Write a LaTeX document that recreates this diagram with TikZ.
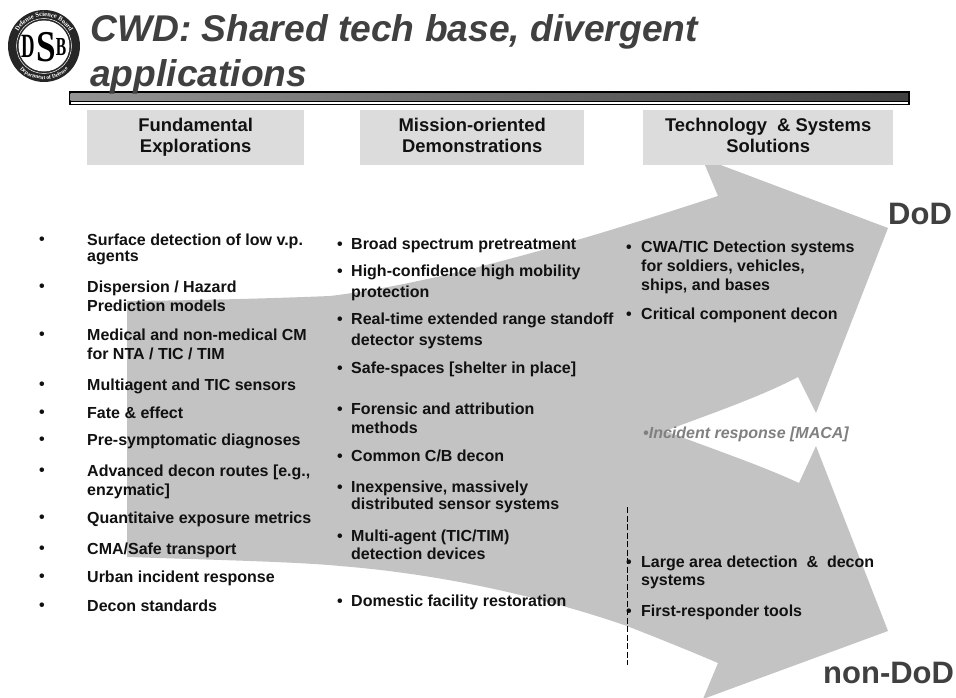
\documentclass[tikz,border=0pt]{standalone}
\usepackage{fontspec}
\setmainfont{Liberation Sans}
\newfontfamily\seriffont{Liberation Serif}
\usetikzlibrary{decorations.text}
\definecolor{arrowgray}{HTML}{C3C3C3}
\definecolor{boxgray}{HTML}{DCDCDC}
\definecolor{titlegray}{HTML}{404040}
\definecolor{inkblack}{HTML}{111111}
\newcommand{\pxfont}[1]{\fontsize{#1}{#1}\selectfont}
\newcommand{\twolines}[3]{\begin{tabular}[t]{@{}l@{}}\smash{#1}\\[#3]\smash{#2}\end{tabular}}
\newcommand{\threelines}[4]{\begin{tabular}[t]{@{}l@{}}\smash{#1}\\[#4]\smash{#2}\\[#4]\smash{#3}\end{tabular}}
\tikzset{
  x=1pt,y=-1pt,
  itemtext/.style={anchor=base west,inner sep=0pt,text=inkblack,font=\bfseries\pxfont{16}},
  bulletmark/.style={anchor=base,inner sep=0pt,text=inkblack,font=\bfseries\pxfont{16}},
  headbox/.style={fill=boxgray,draw=none,minimum height=55pt,inner sep=0pt,anchor=north west,align=center,text=inkblack,font=\bfseries\pxfont{18.4}},
  bigtitle/.style={anchor=base west,inner sep=0pt,text=titlegray,font=\bfseries\itshape\pxfont{37.2}},
  sidelabel/.style={anchor=base west,inner sep=0pt,text=titlegray,font=\bfseries\pxfont{31}},
}
\begin{document}
\begin{tikzpicture}
\useasboundingbox (0,0) rectangle (956,698);
\fill[white] (0,0) rectangle (956,698);
% arrow
\begin{scope}
\clip (0,0) rectangle (956,698);
\fill[arrowgray] (127,301) -- (127,557)
  .. controls (220,560) and (300,562) .. (340,566)
  .. controls (440,574) and (540,596) .. (627,626)
  .. controls (660,639) and (690,651) .. (718,663)
  -- (703,699) -- (888,631) -- (816,446) -- (799,483)
  .. controls (760,465) and (710,448) .. (665,431)
  .. controls (710,414) and (760,397) .. (798,377)
  -- (816,413) -- (888,228) -- (702,158) -- (718,196)
  .. controls (590,238) and (440,283) .. (330,296)
  .. controls (270,298.5) and (190,300.5) .. (127,301) -- cycle;
\end{scope}
% logo
\fill[black!85] (44,46) circle (36);
\draw[white,line width=0.5pt] (44,46) circle (27.5);
\fill[white] (44,46) circle (25.5);
\path[decorate,decoration={text along path,text align=center,text={|\seriffont\bfseries\pxfont{6.5}\color{white}|Defense Science Board}}] (14.5,46) arc[start angle=180,end angle=360,radius=29.5];
\path[decorate,decoration={text along path,text align=center,text={|\seriffont\bfseries\pxfont{5.5}\color{white}|Department of Defense}}] (10.5,46) arc[start angle=180,end angle=0,radius=33.5];
\node[inner sep=0pt,font=\seriffont\bfseries\pxfont{34}] (logod) at (28,46) {\scalebox{0.55}[1]{D}};
\node[inner sep=0pt,font=\seriffont\bfseries\pxfont{44}] (logos) at (46.5,47) {\scalebox{0.8}[1]{S}};
\node[inner sep=0pt,font=\seriffont\bfseries\pxfont{26}] (logob) at (61,47) {\scalebox{0.6}[1]{B}};
% banner
\fill[black] (68.5,91) rectangle (910,105.5);
\shade[left color=black!42,right color=black!75] (70.5,94) rectangle (908,101);
\fill[white] (70.5,102) rectangle (908,104);
% title
\node[bigtitle] (title1) at (90,42) {CWD: Shared tech base, divergent};
\node[bigtitle] (title2) at (90,87) {applications};
% headers
\node[headbox,minimum width=217pt] (h1) at (87,110) {Fundamental\\[2.6pt]Explorations\vphantom{p}};
\node[headbox,minimum width=224pt] (h2) at (360,110) {Mission-oriented\\[2.6pt]Demonstrations\vphantom{p}};
\node[headbox,minimum width=250pt] (h3) at (643,110) {Technology \ \& Systems\\[2.6pt]Solutions\vphantom{p}};
% dashed
\coordinate (dashtop) at (627,507);
\coordinate (dashbot) at (627,665);
\draw[black,line width=0.6pt,dash pattern=on 6pt off 2.5pt] (dashtop) -- (dashbot);
% column 1
\foreach \n/\y in {a/245,b/292,c/340,d/390,e/418,f/445,g/476,h/523,i/554,j/582,k/611}
  \node[bulletmark] (bl\n) at (42,\y-1) {•};
\node[itemtext] (c1a) at (87,245) {\twolines{Surface detection of low v.p.}{agents}{0pt}};
\node[itemtext] (c1b) at (87,292) {\twolines{Dispersion / Hazard}{Prediction models}{3pt}};
\node[itemtext] (c1c) at (87,340) {\twolines{Medical and non-medical CM}{for NTA / TIC / TIM}{3pt}};
\node[itemtext] (c1d) at (87,390) {Multiagent and TIC sensors};
\node[itemtext] (c1e) at (87,418) {Fate \& effect};
\node[itemtext] (c1f) at (87,445) {Pre-symptomatic diagnoses};
\node[itemtext] (c1g) at (87,476) {\twolines{Advanced decon routes [e.g.,}{enzymatic]}{3pt}};
\node[itemtext] (c1h) at (87,523) {Quantitaive exposure metrics};
\node[itemtext] (c1i) at (87,554) {CMA/Safe transport};
\node[itemtext] (c1j) at (87,582) {Urban incident response};
\node[itemtext] (c1k) at (87,611) {Decon standards};
% column 2
\foreach \n/\y in {a/249,b/276,c/324,d/373,e/414,f/461,g/492,h/541,i/606}
  \node[bulletmark] (bm\n) at (340,\y) {•};
\node[itemtext] (c2a) at (351,249) {Broad spectrum pretreatment};
\node[itemtext] (c2b) at (351,276) {\twolines{High-confidence high mobility}{protection}{5pt}};
\node[itemtext] (c2c) at (351,324) {\twolines{Real-time extended range standoff}{detector systems}{5pt}};
\node[itemtext] (c2d) at (351,373) {Safe-spaces [shelter in place]};
\node[itemtext] (c2e) at (351,414) {\twolines{Forensic and attribution}{methods}{3pt}};
\node[itemtext] (c2f) at (351,461) {Common C/B decon};
\node[itemtext] (c2g) at (351,492) {\twolines{Inexpensive, massively}{distributed sensor systems}{1pt}};
\node[itemtext] (c2h) at (351,541) {\twolines{Multi-agent (TIC/TIM)}{detection devices}{2pt}};
\node[itemtext] (c2i) at (351,606) {Domestic facility restoration};
% column 3
\foreach \n/\y in {a/252,b/319,c/567,d/616}
  \node[bulletmark] (br\n) at (629,\y) {•};
\node[itemtext] (c3a) at (641,252) {\threelines{CWA/TIC Detection systems}{for soldiers, vehicles,}{ships, and bases}{3pt}};
\node[itemtext] (c3b) at (641,319) {Critical component decon};
\node[anchor=base west,inner sep=0pt,text=black!50,font=\bfseries\itshape\pxfont{16}] (c3c) at (643,438) {•Incident response [MACA]};
\node[itemtext] (c3d) at (641,567) {\twolines{Large area detection \ \& \ decon}{systems}{2pt}};
\node[itemtext] (c3e) at (641,616) {First-responder tools};
% labels
\node[sidelabel] (dod) at (888,224) {DoD};
\node[sidelabel] (nondod) at (823,683) {non-DoD};
\end{tikzpicture}
\end{document}
